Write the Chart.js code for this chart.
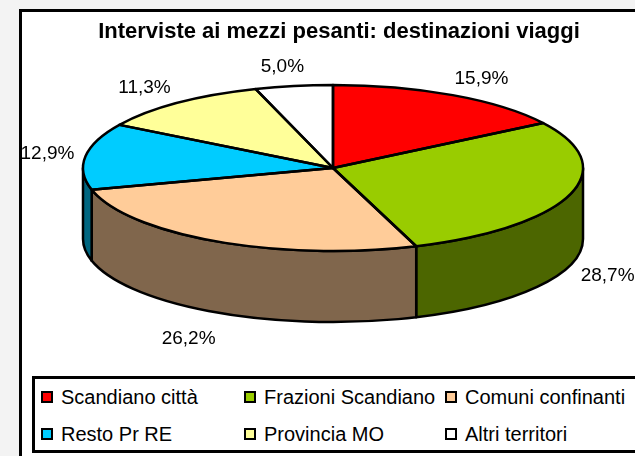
<!DOCTYPE html>
<html lang="it">
<head>
<meta charset="UTF-8">
<title>Interviste ai mezzi pesanti: destinazioni viaggi</title>
<script src="https://cdn.jsdelivr.net/npm/chart.js"></script>
<style>
  body { margin: 0; background: #f3f3f3; font-family: Arial, "Liberation Sans", sans-serif; }
  #wrap { position: relative; width: 635px; height: 456px; overflow: hidden; }
  #frame { position: absolute; left: 19px; top: 9px; width: 700px; height: 500px; border: 3px solid #000; background: #fff; }
  #graph { position: absolute; left: 0; top: 0; }
  #legend { position: absolute; left: 32px; top: 376px; width: 700px; height: 71px; border: 3px solid #000; background: #fff; }
  .item { position: absolute; height: 24px; line-height: 24px; font-size: 20px; color: #000; white-space: nowrap; }
  .item i { position: absolute; left: 0; top: 6px; width: 8px; height: 8px; border: 2px solid #000; }
  .item span { position: absolute; left: 20px; top: 0; }
</style>
</head>
<body>
<div id="wrap">
  <div id="frame"></div>
  <div id="legend"></div>
  <canvas id="graph" width="635" height="456"></canvas>
</div>
<script>
const labels = ['Scandiano città', 'Frazioni Scandiano', 'Comuni confinanti', 'Resto Pr RE', 'Provincia MO', 'Altri territori'];
const shares = [15.9, 28.7, 26.2, 12.9, 11.3, 5.0];

const topColors = ['#ff0000', '#99cc00', '#ffcc99', '#00ccff', '#ffff99', '#ffffff'];
const sideColors = ['#800000', '#4c6600', '#80664c', '#006680', '#80804c', '#808080'];

// top face of the tilted pie and the height of its wall
const PIE = { cx: 333, cy: 168, rx: 250, ry: 83, depth: 71 };

function fmt(v) {
  return v.toFixed(1).replace('.', ',') + '%';
}

const pie3d = {
  id: 'pie3d',
  beforeDatasetsDraw(chart) {
    const ctx = chart.ctx;
    const arcs = chart.getDatasetMeta(0).data;

    // front wall: only the part between 0 and PI faces the viewer
    ctx.save();
    ctx.lineWidth = 2.5;
    ctx.strokeStyle = '#000';
    ctx.lineJoin = 'round';
    arcs.forEach((arc, i) => {
      const p = arc.getProps(['startAngle', 'endAngle'], true);
      const a0 = Math.max(p.startAngle, 0);
      const a1 = Math.min(p.endAngle, Math.PI);
      if (a1 <= a0) return;
      ctx.beginPath();
      ctx.ellipse(PIE.cx, PIE.cy, PIE.rx, PIE.ry, 0, a0, a1);
      ctx.ellipse(PIE.cx, PIE.cy + PIE.depth, PIE.rx, PIE.ry, 0, a1, a0, true);
      ctx.closePath();
      ctx.fillStyle = sideColors[i];
      ctx.fill();
      ctx.stroke();
    });
    ctx.restore();

    // squash the library's round pie onto the ellipse
    const c = arcs[0].getProps(['x', 'y', 'outerRadius'], true);
    ctx.save();
    ctx.translate(PIE.cx, PIE.cy);
    ctx.scale(PIE.rx / c.outerRadius, PIE.ry / c.outerRadius);
    ctx.translate(-c.x, -c.y);
  },
  afterDatasetsDraw(chart) {
    const ctx = chart.ctx;
    ctx.restore();
    const arcs = chart.getDatasetMeta(0).data;
    const values = chart.data.datasets[0].data;

    ctx.save();
    ctx.lineWidth = 2.5;
    ctx.strokeStyle = '#000';
    ctx.lineJoin = 'round';
    arcs.forEach(arc => {
      const p = arc.getProps(['startAngle', 'endAngle'], true);
      ctx.beginPath();
      ctx.moveTo(PIE.cx, PIE.cy);
      ctx.ellipse(PIE.cx, PIE.cy, PIE.rx, PIE.ry, 0, p.startAngle, p.endAngle);
      ctx.closePath();
      ctx.stroke();
    });

    // percentage labels outside the rim
    ctx.fillStyle = '#000';
    ctx.font = '19px Arial, "Liberation Sans", sans-serif';
    ctx.textAlign = 'center';
    ctx.textBaseline = 'middle';
    arcs.forEach((arc, i) => {
      const p = arc.getProps(['startAngle', 'endAngle'], true);
      const m = (p.startAngle + p.endAngle) / 2;
      const cx = Math.cos(m), sy = Math.sin(m);
      const front = sy > 0;
      const x = PIE.cx + cx * (PIE.rx + 80 - 42 * Math.abs(cx));
      const y = PIE.cy + sy * (PIE.ry + (front ? 30 : 19)) + (front ? PIE.depth : 0);
      ctx.fillText(fmt(values[i]), x, y);
    });
    ctx.restore();
  }
};

new Chart(document.getElementById('graph'), {
  type: 'pie',
  data: {
    labels: labels,
    datasets: [{
      data: shares,
      backgroundColor: topColors,
      borderWidth: 0,
      clip: false
    }]
  },
  options: {
    responsive: false,
    animation: false,
    layout: { padding: { top: 8, left: 43, right: 0, bottom: 90 } },
    plugins: {
      legend: { display: false },
      tooltip: { enabled: false },
      title: {
        display: true,
        text: 'Interviste ai mezzi pesanti: destinazioni viaggi',
        color: '#000',
        font: { family: 'Arial, "Liberation Sans", sans-serif', size: 22, weight: 'bold', lineHeight: 1.2 },
        padding: { top: 11, bottom: 40 }
      }
    }
  },
  plugins: [pie3d]
});

// legend in three columns, two rows
const legend = document.getElementById('legend');
const colX = [6, 209, 410];
const rowY = [6, 43];
labels.forEach((name, i) => {
  const el = document.createElement('div');
  el.className = 'item';
  el.style.left = colX[i % 3] + 'px';
  el.style.top = rowY[Math.floor(i / 3)] + 'px';
  el.innerHTML = '<i style="background:' + topColors[i] + '"></i><span></span>';
  el.querySelector('span').textContent = name;
  legend.appendChild(el);
});
</script>
</body>
</html>
